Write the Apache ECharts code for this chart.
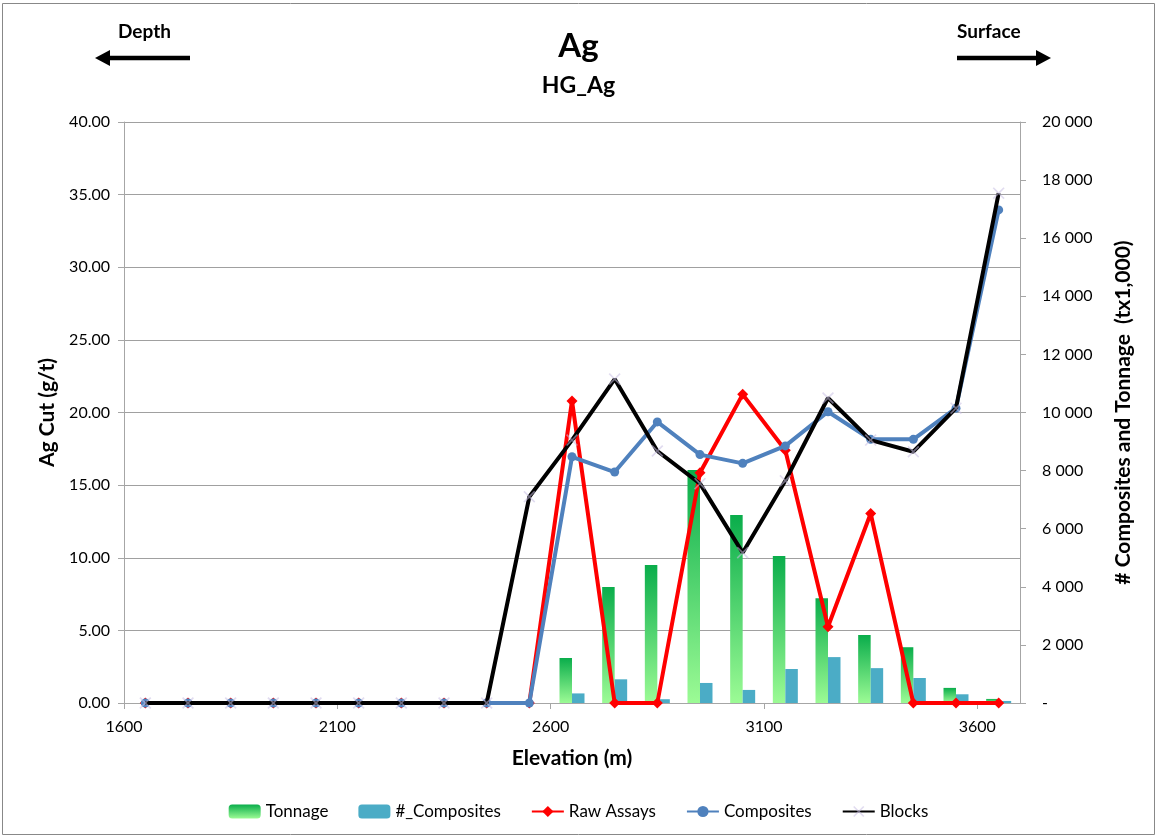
<!DOCTYPE html>
<html>
<head>
<meta charset="utf-8">
<script src="https://cdn.jsdelivr.net/npm/echarts@6/dist/echarts.min.js"></script>
<style>
html,body{margin:0;padding:0;background:#fff;}
#chart{width:1157px;height:838px;}
</style>
</head>
<body>
<div id="chart"></div>
<script>
// ---- data ----
const elevations = [1650,1750,1850,1950,2050,2150,2250,2350,2450,2550,2650,2750,2850,2950,3050,3150,3250,3350,3450,3550,3650];
const tonnage    = [0,0,0,0,0,0,0,0,0,0,1550,3990,4750,8020,6470,5060,3610,2340,1920,520,140];
const compCount  = [0,0,0,0,0,0,0,0,0,0,330,815,130,690,450,1170,1580,1200,860,300,70];
const rawAssays  = [0,0,0,0,0,0,0,0,0,0,20.8,0,0,15.85,21.25,17.4,5.25,13.05,0,0,0];
const composites = [0,0,0,0,0,0,0,0,0,0,16.95,15.9,19.35,17.1,16.5,17.7,20.05,18.15,18.15,20.3,33.95];
const blocks     = [0,0,0,0,0,0,0,0,0,14.2,18.1,22.3,17.35,15.1,10.35,15.3,21.0,18.1,17.3,20.3,35.1];

const FONT = 'Lato, "Open Sans", sans-serif';
const pairs = arr => elevations.map((e,i)=>[e, arr[i]]);
const fmtRight = v => v === 0 ? '-' : String(v).replace(/\B(?=(\d{3})+(?!\d))/g, ' ');

const chart = echarts.init(document.getElementById('chart'));
const greenGrad = new echarts.graphic.LinearGradient(0,0,0,1,[
  {offset:0,color:'#0AAD4B'},{offset:1,color:'#9CFB95'}]);
const xMark = 'path://M0,1L1,0L5,4L9,0L10,1L6,5L10,9L9,10L5,6L1,10L0,9L4,5Z';

chart.setOption({
  animation:false,
  textStyle:{fontFamily:FONT},
  title:[
    {text:'Ag', left:'center', top:25, textStyle:{fontFamily:FONT,fontSize:33,fontWeight:'bold',color:'#000'}},
    {text:'HG_Ag', left:'center', top:69, textStyle:{fontFamily:FONT,fontSize:23,fontWeight:'bold',color:'#000'}}
  ],
  graphic:[
    {type:'rect', shape:{x:2.5,y:3.5,width:1152,height:831}, style:{fill:'none',stroke:'#888',lineWidth:1}, silent:true},
    {type:'text', left:118, top:22, style:{text:'Depth', font:'bold 19px '+FONT, fill:'#000'}},
    {type:'line', shape:{x1:108,y1:58,x2:190,y2:58}, style:{stroke:'#000',lineWidth:4.5}},
    {type:'polygon', shape:{points:[[95,58],[110,50],[110,66]]}, style:{fill:'#000'}},
    {type:'text', left:957, top:22, style:{text:'Surface', font:'bold 19px '+FONT, fill:'#000'}},
    {type:'line', shape:{x1:957,y1:58,x2:1039,y2:58}, style:{stroke:'#000',lineWidth:4.5}},
    {type:'polygon', shape:{points:[[1051,58],[1036,50],[1036,66]]}, style:{fill:'#000'}}
  ],
  legend:{
    bottom:13, left:'center', itemGap:30, itemWidth:32, itemHeight:14,
    textStyle:{fontFamily:FONT,fontSize:17,color:'#000'},
    data:['Tonnage','#_Composites','Raw Assays','Composites','Blocks']
  },
  grid:{left:124,right:137,top:122,bottom:135},
  xAxis:[
    {type:'value', min:1600, max:3700, interval:500,
     name:'Elevation (m)', nameLocation:'middle', nameGap:45,
     nameTextStyle:{fontFamily:FONT,fontSize:21,fontWeight:'bold',color:'#000'},
     axisLine:{lineStyle:{color:'#A6A6A6'}}, axisTick:{show:true,length:6,lineStyle:{color:'#A6A6A6'}},
     axisLabel:{color:'#000',fontSize:16,margin:16,showMaxLabel:false,formatter:v=>String(v)},
     splitLine:{show:false}},
    {type:'category', data:elevations, show:false, boundaryGap:true, position:'bottom'}
  ],
  yAxis:[
    {type:'value', min:0, max:40, interval:5,
     name:'Ag Cut (g/t)', nameLocation:'middle', nameGap:66,
     nameTextStyle:{fontFamily:FONT,fontSize:21,fontWeight:'bold',color:'#000'},
     axisLine:{show:true,lineStyle:{color:'#A6A6A6'}}, axisTick:{show:true,length:6,lineStyle:{color:'#A6A6A6'}},
     axisLabel:{color:'#000',fontSize:16,margin:14,formatter:v=>v.toFixed(2)},
     splitLine:{show:true,lineStyle:{color:'#A0A0A0',width:1}}},
    {type:'value', min:0, max:20000, interval:2000, position:'right',
     name:'# Composites and Tonnage  (tx1,000)', nameLocation:'middle', nameGap:93, nameRotate:90,
     nameTextStyle:{fontFamily:FONT,fontSize:21,fontWeight:'bold',color:'#000'},
     axisLine:{show:true,lineStyle:{color:'#A6A6A6'}}, axisTick:{show:true,length:6,lineStyle:{color:'#A6A6A6'}},
     axisLabel:{color:'#000',fontSize:16,margin:22,formatter:fmtRight},
     splitLine:{show:false}}
  ],
  series:[
    {name:'Tonnage', type:'bar', xAxisIndex:1, yAxisIndex:1, data:tonnage, barWidth:12.5, barGap:'0%',
     itemStyle:{color:greenGrad}, z:1},
    {name:'#_Composites', type:'bar', xAxisIndex:1, yAxisIndex:1, data:compCount, barWidth:12.5, barGap:'0%',
     itemStyle:{color:'#4BACC6'}, z:1},
    {name:'Raw Assays', type:'line', xAxisIndex:0, yAxisIndex:0, data:pairs(rawAssays),
     lineStyle:{color:'#FF0000',width:4}, itemStyle:{color:'#FF0000'},
     symbol:'diamond', symbolSize:11, showAllSymbol:true, z:3},
    {name:'Composites', type:'line', xAxisIndex:0, yAxisIndex:0, data:pairs(composites),
     lineStyle:{color:'#4F81BD',width:4}, itemStyle:{color:'#4F81BD'},
     symbol:'circle', symbolSize:9, showAllSymbol:true, z:4},
    {name:'Blocks', type:'line', xAxisIndex:0, yAxisIndex:0, data:pairs(blocks),
     lineStyle:{color:'#000000',width:4}, itemStyle:{color:'rgba(200,192,228,0.55)'},
     symbol:xMark, symbolSize:12, showAllSymbol:true, z:5}
  ]
});
</script>
</body>
</html>
